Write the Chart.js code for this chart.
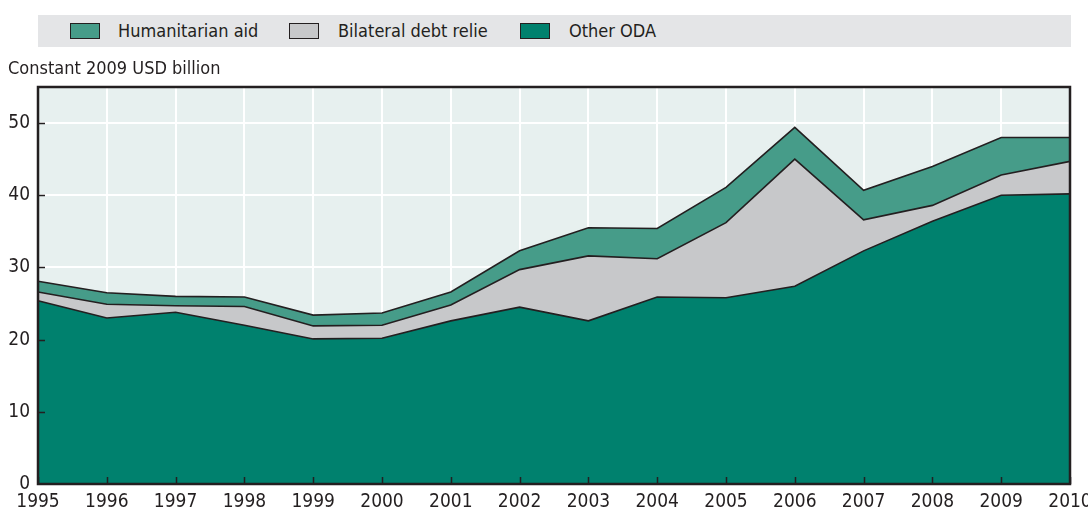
<!DOCTYPE html>
<html>
<head>
<meta charset="utf-8">
<script src="https://cdn.jsdelivr.net/npm/chart.js@4"></script>
<style>
  html, body { margin: 0; padding: 0; background: #fff; }
  body { width: 1088px; height: 515px; position: relative; overflow: hidden;
         font-family: "Liberation Sans Narrow", "DejaVu Sans Condensed", sans-serif; color: #231f20; }
  #wrap { position: absolute; left: 0; top: 0; width: 1088px; height: 515px; }
  .legend { position: absolute; left: 38px; top: 15px; width: 1033px; height: 32px; background: #e4e5e7; }
  .legend .item { position: absolute; top: 0; height: 32px; line-height: 32px; font-size: 18px; white-space: nowrap; }
  .legend .sw { position: absolute; top: 8px; width: 28px; height: 14px; border: 1.5px solid #231f20; }
  .unit { position: absolute; left: 8px; top: 57px; font-size: 18px; white-space: nowrap; }
</style>
</head>
<body>
<div id="wrap"><canvas id="chart" width="1088" height="515"></canvas></div>
<div class="legend" id="legend"></div>
<div class="unit">Constant 2009 USD billion</div>
<script>
/* ===== Humanitarian aid, debt relief and other ODA ===== */

const YEARS = ['1995', '1996', '1997', '1998', '1999', '2000', '2001', '2002',
               '2003', '2004', '2005', '2006', '2007', '2008', '2009', '2010'];

const OTHER_ODA    = [25.4, 23.0, 23.8, 22.0, 20.1, 20.2, 22.6, 24.5, 22.6, 25.9, 25.8, 27.4, 32.3, 36.4, 40.0, 40.2];
const DEBT_RELIEF  = [1.2, 1.9, 0.9, 2.6, 1.8, 1.8, 2.2, 5.2, 9.0, 5.3, 10.4, 17.6, 4.3, 2.2, 2.8, 4.5];
const HUMANITARIAN = [1.5, 1.6, 1.3, 1.3, 1.5, 1.7, 1.8, 2.6, 3.9, 4.2, 4.9, 4.4, 4.1, 5.4, 5.2, 3.3];

const Y_TICKS = [0, 10, 20, 30, 40, 50];

const COLORS = {
  humanitarian: '#469c89',
  debt: '#c7c8ca',
  other: '#00816e',
};
const INK = '#231f20';
const PLOT_BG = '#e7f0ef';

/* ---------- Legend (HTML band) ---------- */

const LEGEND_ITEMS = [
  { label: 'Humanitarian aid', color: COLORS.humanitarian, sw: 32, text: 80 },
  { label: 'Bilateral debt relie', color: COLORS.debt, sw: 251, text: 300 },
  { label: 'Other ODA', color: COLORS.other, sw: 482, text: 531 },
];

const legend = document.getElementById('legend');
LEGEND_ITEMS.forEach(it => {
  const sw = document.createElement('div');
  sw.className = 'sw';
  sw.style.left = it.sw + 'px';
  sw.style.background = it.color;
  legend.appendChild(sw);
  const lbl = document.createElement('div');
  lbl.className = 'item';
  lbl.style.left = it.text + 'px';
  lbl.textContent = it.label;
  legend.appendChild(lbl);
});

/* ---------- Plugins ---------- */

const plotBackground = {
  id: 'plotBackground',
  beforeDraw(chart) {
    const { ctx, chartArea: a } = chart;
    ctx.save();
    ctx.fillStyle = PLOT_BG;
    ctx.fillRect(a.left, a.top, a.right - a.left, a.bottom - a.top);
    ctx.restore();
  },
};

// inward tick marks + frame, drawn on top of the areas
const frameAndTicks = {
  id: 'frameAndTicks',
  afterDatasetsDraw(chart) {
    const { ctx, chartArea: a, scales } = chart;
    ctx.save();
    ctx.strokeStyle = INK;
    ctx.lineWidth = 1.5;
    ctx.beginPath();
    Y_TICKS.forEach(v => {
      if (v === 0) return;
      const y = Math.round(scales.y.getPixelForValue(v)) + 0.5;
      ctx.moveTo(a.left, y);
      ctx.lineTo(a.left + 7, y);
    });
    YEARS.forEach((_, i) => {
      const x = Math.round(scales.x.getPixelForValue(i)) + 0.5;
      ctx.moveTo(x, a.bottom);
      ctx.lineTo(x, a.bottom - 7);
    });
    ctx.stroke();
    ctx.lineWidth = 2.5;
    ctx.strokeRect(a.left, a.top, a.right - a.left, a.bottom - a.top);
    ctx.restore();
  },
};

/* ---------- Chart ---------- */

const FONT = { family: '"Liberation Sans Narrow", "DejaVu Sans Condensed", sans-serif', size: 19 };

function series(label, data, color, fill) {
  return {
    label,
    data,
    backgroundColor: color,
    borderColor: INK,
    borderWidth: 1.6,
    fill,
    tension: 0,
    pointRadius: 0,
  };
}

new Chart(document.getElementById('chart'), {
  type: 'line',
  data: {
    labels: YEARS,
    datasets: [
      series('Other ODA', OTHER_ODA, COLORS.other, 'origin'),
      series('Bilateral debt relie', DEBT_RELIEF, COLORS.debt, '-1'),
      series('Humanitarian aid', HUMANITARIAN, COLORS.humanitarian, '-1'),
    ],
  },
  options: {
    responsive: false,
    animation: false,
    layout: { padding: { top: 87, right: 18, left: 0, bottom: 0 } },
    scales: {
      x: {
        offset: false,
        grid: { color: '#ffffff', lineWidth: 2, drawTicks: false },
        border: { display: false },
        ticks: { color: INK, font: FONT, padding: 7, maxRotation: 0, autoSkip: false },
        afterFit(scale) {
          scale.height = 31;
          scale.paddingLeft = 0;
          scale.paddingRight = 0;
        },
      },
      y: {
        stacked: true,
        min: 0,
        max: 55,
        afterBuildTicks(scale) {
          scale.ticks = Y_TICKS.map(v => ({ value: v }));
        },
        grid: { color: '#ffffff', lineWidth: 2, drawTicks: false },
        border: { display: false },
        ticks: { color: INK, font: FONT, padding: 8 },
        afterFit(scale) {
          scale.width = 38;
        },
      },
    },
    plugins: {
      legend: { display: false },
      tooltip: { enabled: false },
    },
  },
  plugins: [plotBackground, frameAndTicks],
});
</script>
</body>
</html>
